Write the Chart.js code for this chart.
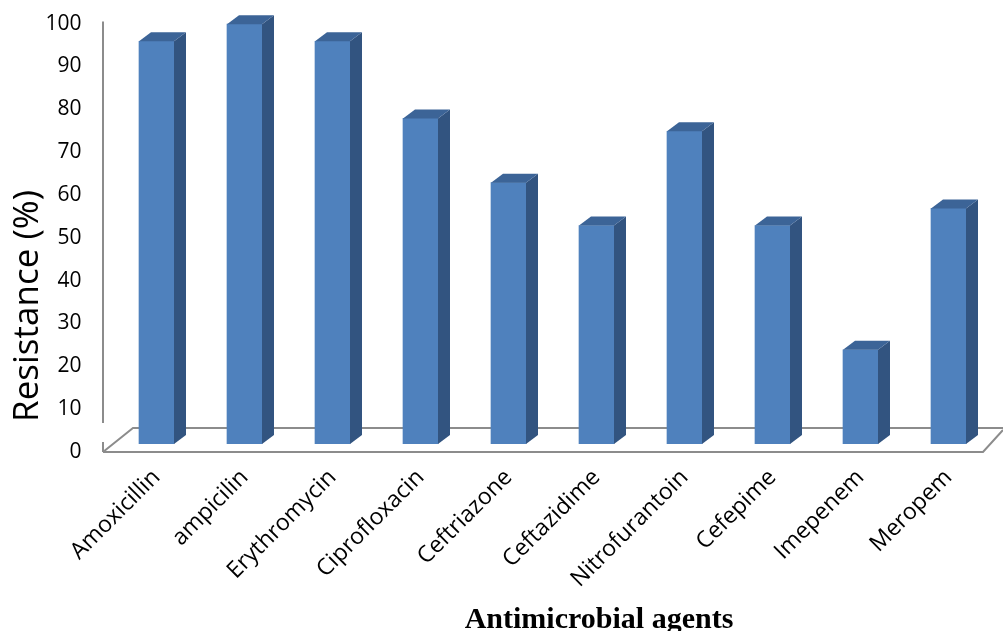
<!DOCTYPE html>
<html>
<head>
<meta charset="utf-8">
<script src="https://cdn.jsdelivr.net/npm/chart.js@4"></script>
<style>
  html, body { margin: 0; padding: 0; background: #ffffff; }
  canvas { display: block; }
</style>
</head>
<body>
<canvas id="chart" width="1003" height="631"></canvas>
<script>
// Resistance of isolates to each antimicrobial agent (%)
const agents = [
  'Amoxicillin', 'ampicilin', 'Erythromycin', 'Ciprofloxacin', 'Ceftriazone',
  'Ceftazidime', 'Nitrofurantoin', 'Cefepime', 'Imepenem', 'Meropem'
];
const resistance = [94, 98, 94, 76, 61, 51, 73, 51, 22, 55];
const valueAxisMin = 0;
const valueAxisMax = 100;
const valueAxisStep = 10;

const yTitle = 'Resistance (%)';
const xTitle = 'Antimicrobial agents';

const FRONT = '#4f81bd';
const SIDE = '#325480';
const TOP = '#3c6497';
const AXIS = '#8c8c8c';

// Oblique depth of each column and of the floor
const barDepth = { dx: 12, dy: 9 };
const floorFront = 8;   // front floor edge below the column base
const floorBack = 16;   // back floor edge above the column base

// Floor outline and value axis line, drawn behind the columns
const floorPlugin = {
  id: 'floor',
  beforeDatasetsDraw(chart) {
    const { ctx, chartArea, scales } = chart;
    const y0 = scales.y.getPixelForValue(valueAxisMin);
    const yTop = scales.y.getPixelForValue(valueAxisMax);
    const front = y0 + floorFront;
    const back = y0 - floorBack;
    const left = chartArea.left - 9.5;
    const frontRight = chartArea.right - 9.5;
    ctx.save();
    ctx.strokeStyle = AXIS;
    ctx.lineWidth = 2;
    ctx.lineCap = 'butt';
    ctx.beginPath();
    // value axis
    ctx.moveTo(left, yTop + 6);
    ctx.lineTo(left, back - 5);
    ctx.moveTo(left, front - 10);
    ctx.lineTo(left, front);
    // front floor edge with its right corner
    ctx.moveTo(left, front);
    ctx.lineTo(frontRight, front);
    ctx.lineTo(chart.width, back + 2);
    // left floor edge and back floor edge
    ctx.moveTo(left, front);
    ctx.lineTo(left + 30, back);
    ctx.lineTo(chart.width, back);
    ctx.stroke();
    ctx.restore();
  }
};

// Side and top faces that give each column its depth
const columnPlugin = {
  id: 'columns3d',
  afterDatasetsDraw(chart) {
    const { ctx } = chart;
    const { dx, dy } = barDepth;
    chart.getDatasetMeta(0).data.forEach(bar => {
      const { x, y, base, width } = bar.getProps(['x', 'y', 'base', 'width'], true);
      const l = x - width / 2;
      const r = x + width / 2;
      ctx.save();
      ctx.fillStyle = SIDE;
      ctx.beginPath();
      ctx.moveTo(r, y);
      ctx.lineTo(r + dx, y - dy);
      ctx.lineTo(r + dx, base - dy);
      ctx.lineTo(r, base);
      ctx.closePath();
      ctx.fill();
      ctx.fillStyle = TOP;
      ctx.beginPath();
      ctx.moveTo(l, y);
      ctx.lineTo(l + dx, y - dy);
      ctx.lineTo(r + dx, y - dy);
      ctx.lineTo(r, y);
      ctx.closePath();
      ctx.fill();
      ctx.restore();
    });
  }
};

// Axis titles
const titlePlugin = {
  id: 'axisTitles',
  afterDraw(chart) {
    const { ctx } = chart;
    ctx.save();
    ctx.fillStyle = '#000000';
    ctx.textAlign = 'center';
    ctx.textBaseline = 'middle';
    ctx.font = '35px "Open Sans"';
    ctx.translate(28, 306);
    ctx.rotate(-Math.PI / 2);
    ctx.fillText(yTitle, 0, 0);
    ctx.restore();

    ctx.save();
    ctx.fillStyle = '#000000';
    ctx.textAlign = 'center';
    ctx.textBaseline = 'alphabetic';
    ctx.font = 'bold 30px "Liberation Serif"';
    ctx.fillText(xTitle, 599, 628);
    ctx.restore();
  }
};

new Chart(document.getElementById('chart'), {
  type: 'bar',
  data: {
    labels: agents,
    datasets: [{
      data: resistance,
      backgroundColor: FRONT,
      borderWidth: 0,
      barThickness: 35
    }]
  },
  options: {
    responsive: false,
    animation: false,
    layout: { padding: { left: 0, top: 15, right: 10.5, bottom: 0 } },
    plugins: {
      legend: { display: false },
      tooltip: { enabled: false }
    },
    scales: {
      x: {
        grid: { display: false, drawTicks: true, tickLength: 18 },
        border: { display: false },
        ticks: {
          autoSkip: false,
          minRotation: 45,
          maxRotation: 45,
          padding: 2,
          labelOffset: 0,
          color: '#000000',
          font: { family: 'Open Sans', size: 23 }
        },
        afterFit(scale) { scale.height = 187; }
      },
      y: {
        min: valueAxisMin,
        max: valueAxisMax,
        grid: { display: false, drawTicks: true, tickLength: 28 },
        border: { display: false },
        ticks: {
          stepSize: valueAxisStep,
          padding: 3,
          labelOffset: 8,
          color: '#000000',
          font: { family: 'Open Sans', size: 21 }
        },
        afterFit(scale) { scale.width = 112.5; }
      }
    }
  },
  plugins: [floorPlugin, columnPlugin, titlePlugin]
});
</script>
</body>
</html>
